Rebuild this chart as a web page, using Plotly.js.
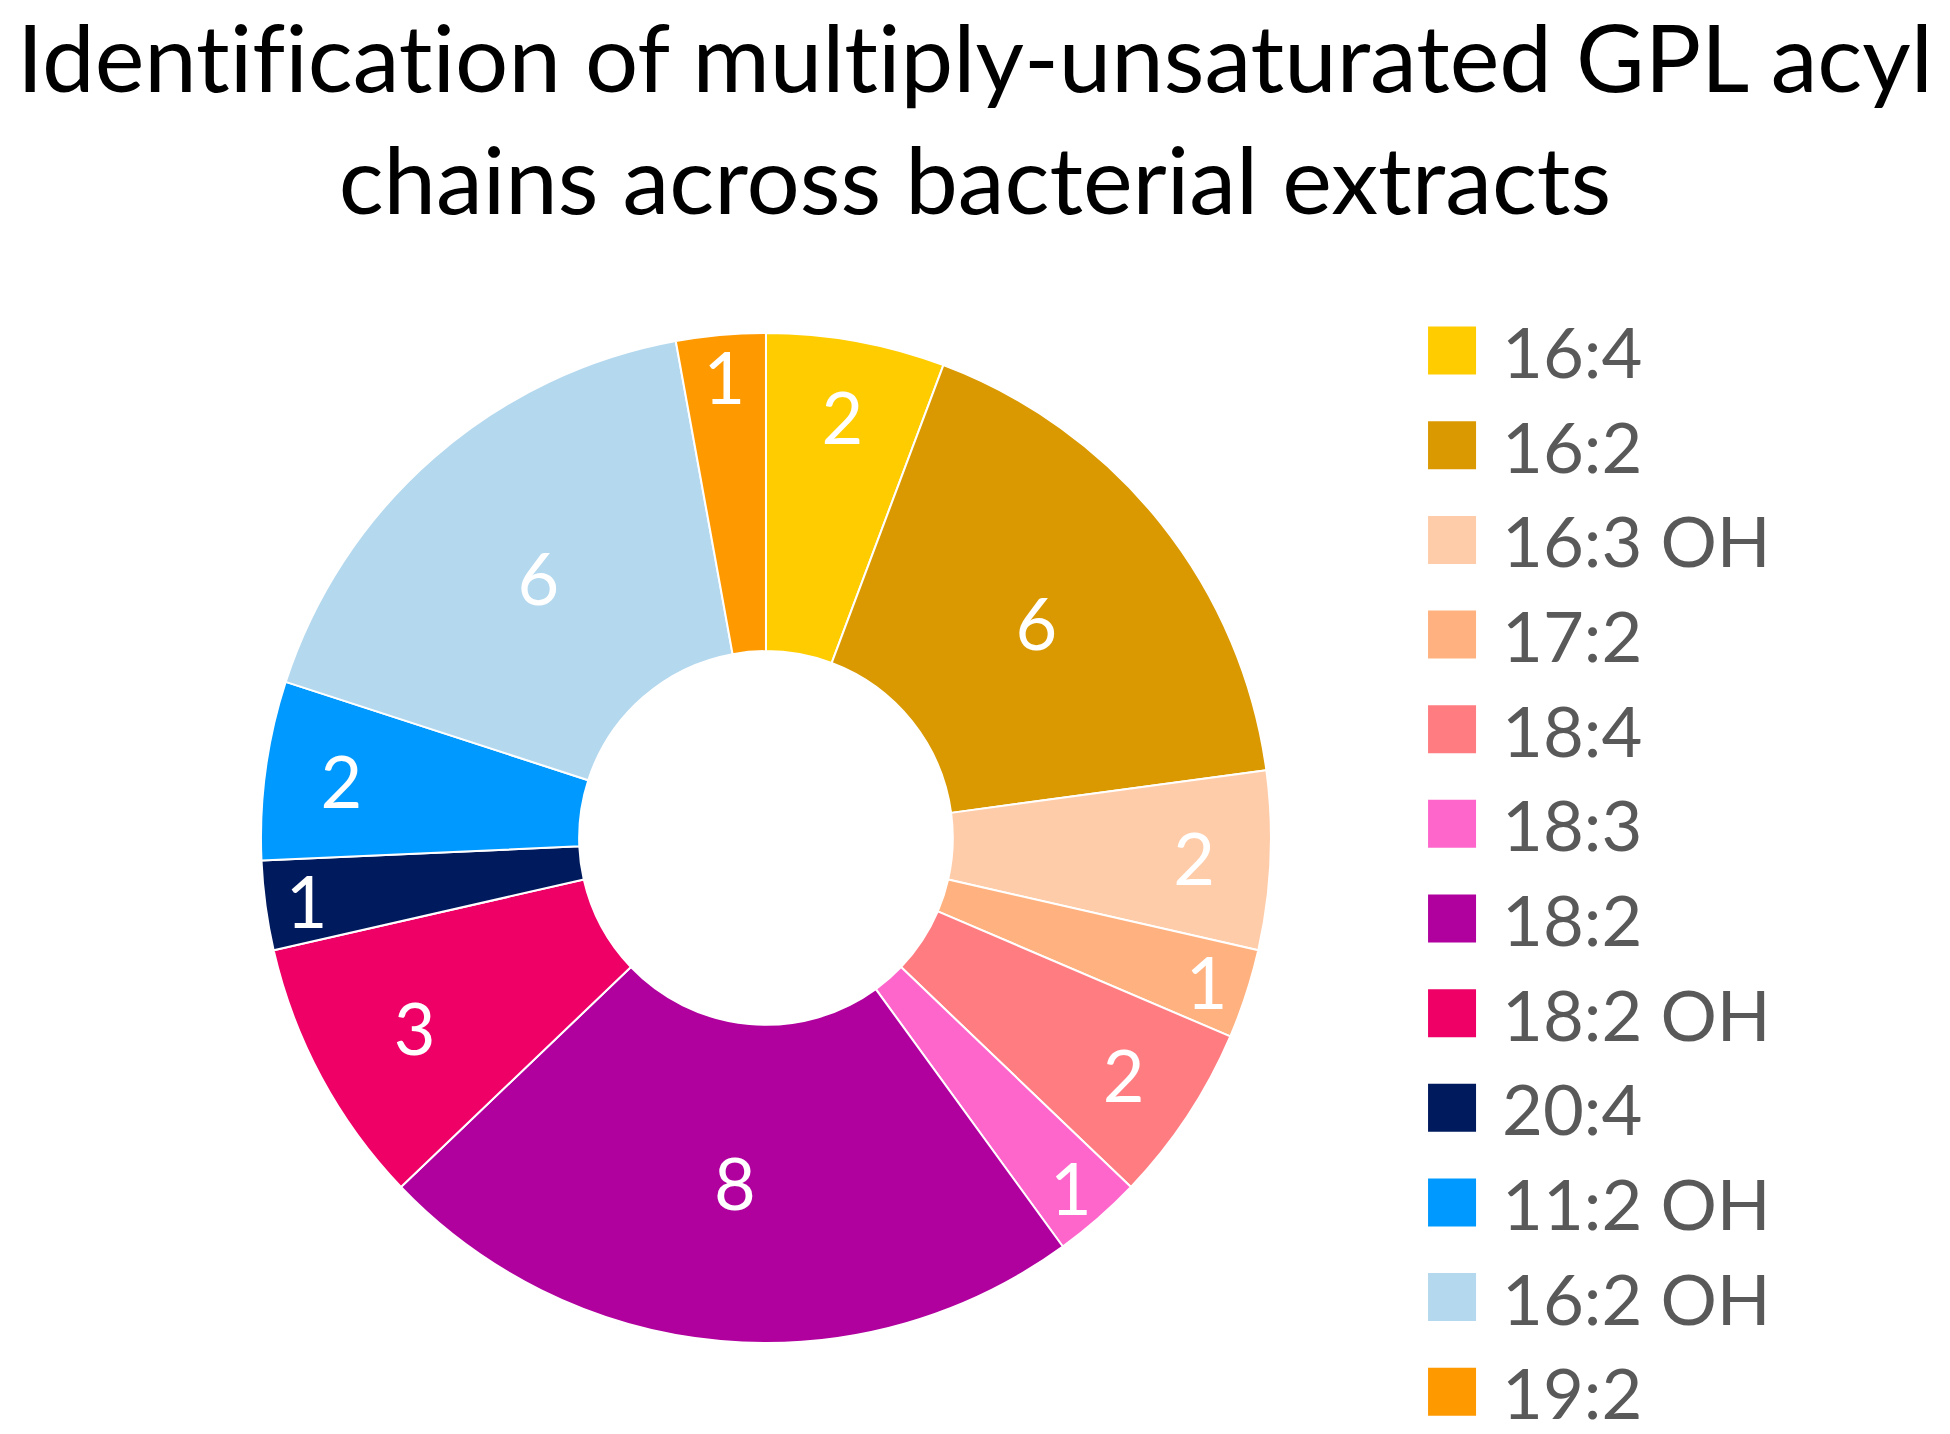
<!DOCTYPE html>
<html>
<head>
<meta charset="utf-8">
<script src="https://cdn.plot.ly/plotly-3.0.1.min.js"></script>
<style>
html,body{margin:0;padding:0;background:#fff;}
#chart text{font-variant-ligatures:none;font-feature-settings:"liga" 0,"clig" 0;}
</style>
</head>
<body>
<div id="chart" style="width:1950px;height:1434px;"></div>
<script>
const labels = ['16:4', '16:2', '16:3 OH', '17:2', '18:4', '18:3', '18:2', '18:2 OH', '20:4', '11:2 OH', '16:2 OH', '19:2'];
const counts = [2, 6, 2, 1, 2, 1, 8, 3, 1, 2, 6, 1];
const colors = ['#FFCC00', '#DA9900', '#FFCCAA', '#FFB17F', '#FF7C80', '#FF66CC', '#B0009E', '#EF0066', '#001A5E', '#0099FF', '#B4D8EE', '#FF9900'];
const titleText = 'Identification of multiply-unsaturated GPL acyl<br>chains across bacterial extracts';

const FONT = 'Lato, "Open Sans", sans-serif';

const trace = {
  type: 'pie',
  labels: labels,
  values: counts,
  marker: {colors: colors, line: {color: '#FFFFFF', width: 2}},
  hole: 0.37,
  sort: false,
  direction: 'clockwise',
  rotation: 0,
  textinfo: 'value',
  textposition: 'inside',
  insidetextorientation: 'horizontal',
  insidetextfont: {family: FONT, size: 72, color: '#FFFFFF'},
  domain: {x: [0.1338, 0.6518], y: [0.0635, 0.7678]},
  hoverinfo: 'label+value'
};

const layout = {
  width: 1950,
  height: 1434,
  margin: {l: 0, r: 0, t: 0, b: 0, autoexpand: false},
  paper_bgcolor: '#FFFFFF',
  title: {
    text: titleText,
    font: {family: FONT, size: 94, color: '#000000'},
    x: 0.5, xanchor: 'center',
    y: 0.936, yanchor: 'top'
  },
  uniformtext: {mode: 'show', minsize: 72},
  showlegend: true,
  legend: {
    x: 0.719, xanchor: 'left',
    y: 0.792, yanchor: 'top',
    font: {family: FONT, size: 70.5, color: '#595959'},
    itemwidth: 90,
    bgcolor: 'rgba(0,0,0,0)',
    borderwidth: 0
  }
};

function enlargeLegendSwatches() {
  document.querySelectorAll('#chart .legendpie').forEach(function (p) {
    p.setAttribute('d', 'M24,24H-24V-24H24Z');
    p.style.strokeWidth = '0px';
  });
}

Plotly.newPlot('chart', [trace], layout, {displayModeBar: false, staticPlot: true}).then(function (gd) {
  enlargeLegendSwatches();
  gd.on('plotly_afterplot', enlargeLegendSwatches);
});
</script>
</body>
</html>
